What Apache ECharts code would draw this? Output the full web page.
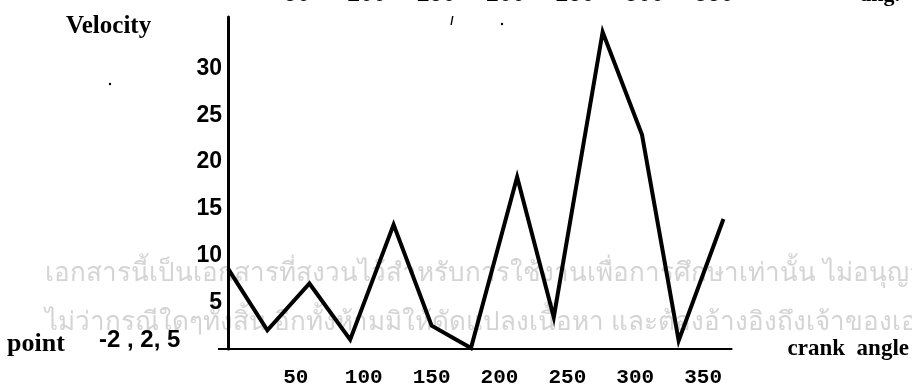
<!DOCTYPE html>
<html>
<head>
<meta charset="utf-8">
<script src="https://cdn.jsdelivr.net/npm/echarts@6/dist/echarts.min.js"></script>
<style>
  html, body { margin: 0; padding: 0; background: #fff; }
  #chart { width: 912px; height: 389px; }
</style>
</head>
<body>
<div id="chart"></div>
<script>
// Crank angle (deg) and velocity readings for the plotted curve
const crankAngle = [0, 29, 60, 90, 122, 150, 179, 213, 240, 276, 305, 332, 365];
const velocity = [8.6, 2.0, 7.0, 1.0, 13.3, 2.5, 0.1, 18.4, 3.4, 33.9, 22.9, 0.9, 13.9];

// Tick labels shown on each axis
const xTickLabels = [50, 100, 150, 200, 250, 300, 350];
const yTickLabels = [5, 10, 15, 20, 25, 30];

// Labels of the figure above, clipped at the top edge
const upperTickLabels = ['50', '100', '150', '200', '250', '300', '350'];

// Note printed across the page
const noticeLines = [
  'เอกสารนี้เป็นเอกสารที่สงวนไว้สำหรับการใช้งานเพื่อการศึกษาเท่านั้น ไม่อนุญาต',
  'ไม่ว่ากรณีใดๆทั้งสิ้น อีกทั้งห้ามมิให้ดัดแปลงเนื้อหา และต้องอ้างอิงถึงเจ้าของเอกสาร'
];

const serif = '"Liberation Serif", "Times New Roman", serif';
const sans = '"Liberation Sans", Arial, sans-serif';
const mono = '"Liberation Mono", "Courier New", monospace';

const chart = echarts.init(document.getElementById('chart'));

const graphics = [];
noticeLines.forEach((t, i) => {
  graphics.push({
    type: 'text', z: 0, left: 45, top: 261 + i * 48.5,
    style: { text: t, fill: '#d4d4d4', font: '26px "Noto Sans", "DejaVu Sans", sans-serif' }
  });
});
upperTickLabels.forEach((t, i) => {
  graphics.push({
    type: 'text', z: 1,
    x: 297 + i * 69.5, y: -5,
    style: { text: t, fill: '#000', font: 'bold 22px ' + mono, align: 'center', verticalAlign: 'middle' }
  });
});
graphics.push(
  { type: 'text', z: 1, x: 900, y: -5,
    style: { text: 'ang.', fill: '#000', font: 'bold 22px ' + serif, align: 'right', verticalAlign: 'middle' } },
  { type: 'text', z: 1, x: 66, y: 27,
    style: { text: 'Velocity', fill: '#000', font: 'bold 25px ' + serif, verticalAlign: 'middle' } },
  { type: 'text', z: 1, x: 7, y: 344,
    style: { text: 'point', fill: '#000', font: 'bold 26px ' + serif, verticalAlign: 'middle' } },
  { type: 'text', z: 1, x: 99, y: 340,
    style: { text: '-2 , 2, 5', fill: '#000', font: 'bold 24px ' + sans, verticalAlign: 'middle' } },
  { type: 'text', z: 1, x: 452, y: 22,
    style: { text: '/', fill: '#000', font: 'bold 12px ' + sans, align: 'center', verticalAlign: 'middle' } },
  { type: 'circle', z: 1, shape: { cx: 502, cy: 24, r: 1.2 }, style: { fill: '#000' } },
  { type: 'circle', z: 1, shape: { cx: 110, cy: 84, r: 1.2 }, style: { fill: '#000' } }
);

chart.setOption({
  animation: false,
  backgroundColor: '#fff',
  grid: { left: 228, right: 179, top: 17, bottom: 40, containLabel: false },
  xAxis: {
    type: 'value', min: 0, max: 371, interval: 50,
    name: 'crank  angle', nameLocation: 'end', nameGap: 56,
    nameTextStyle: { color: '#000', fontFamily: serif, fontWeight: 'bold', fontSize: 23,
      verticalAlign: 'middle', padding: [0, 0, 22, 0] },
    axisLine: { onZero: false, lineStyle: { color: '#000', width: 2 } },
    axisTick: { show: true, customValues: [0], length: 8, lineStyle: { color: '#000', width: 3 } },
    splitLine: { show: false },
    axisLabel: {
      margin: 18, color: '#000', fontFamily: mono, fontWeight: 'bold', fontSize: 21,
      showMinLabel: false, showMaxLabel: false,
      formatter: v => (xTickLabels.includes(v) ? String(v) : '')
    }
  },
  yAxis: {
    type: 'value', min: 0, max: 35.5, interval: 5,
    axisLine: { lineStyle: { color: '#000', width: 3 } },
    axisTick: { show: true, customValues: [0], length: 10, lineStyle: { color: '#000', width: 2 } },
    splitLine: { show: false },
    axisLabel: {
      margin: 6, color: '#000', fontFamily: sans, fontWeight: 'bold', fontSize: 23,
      formatter: v => (yTickLabels.includes(v) ? String(v) : '')
    }
  },
  graphic: graphics,
  series: [{
    type: 'line', z: 5,
    data: crankAngle.map((a, i) => [a, velocity[i]]),
    symbol: 'none',
    lineStyle: { color: '#000', width: 4, join: 'miter', miterLimit: 10 }
  }]
});
</script>
</body>
</html>
